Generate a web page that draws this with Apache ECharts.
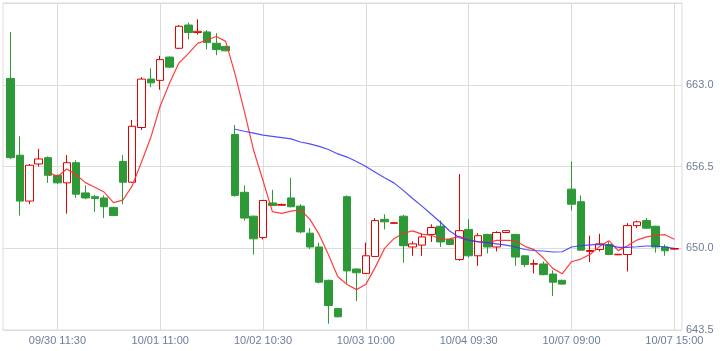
<!DOCTYPE html>
<html>
<head>
<meta charset="utf-8">
<title>K线</title>
<script src="https://cdn.jsdelivr.net/npm/echarts@6/dist/echarts.min.js"></script>
<style>
  html, body { margin: 0; padding: 0; background: #fff; }
  #chart { width: 722px; height: 351px; }
</style>
</head>
<body>
<div id="chart"></div>
<script>
// tick labels shown on the time axis, and the bar they sit on
const tickIndex = [5, 16, 27, 38, 49, 60, 71];
const tickLabels = ['09/30 11:30', '10/01 11:00', '10/02 10:30', '10/03 10:00', '10/04 09:30', '10/07 09:00', '10/07 15:00'];
const barCount = 72;

const opens = [
  663.5, 657.4, 653.75, 656.7, 657.2, 655.8, 655.2, 656.8, 654.4, 654.1, 654.0, 653.25,
  656.9, 655.25, 659.6, 663.45, 663.35, 665.2, 665.9, 667.75, 667.15, 667.2, 666.3, 666.05,
  659.05, 654.45, 652.55, 650.85, 653.6, 653.42, 654.0, 653.35, 651.2, 650.1, 647.45, 645.2,
  654.1, 648.35, 648.0, 649.35, 652.3, 651.98, 652.55, 650.1, 650.25, 651.1, 651.75, 650.7,
  649.1, 651.5, 649.4, 651.1, 650.1, 651.25, 651.1, 649.4, 648.73, 648.75, 647.95, 647.45,
  654.7, 653.7, 649.75, 649.9, 650.3, 649.48, 649.5, 651.8, 652.2, 651.75, 650.1, 649.93
];
const closes = [
  657.2, 653.75, 656.6, 657.1, 655.8, 655.2, 656.8, 654.3, 654.0, 653.95, 653.3, 652.6,
  655.25, 659.7, 663.45, 663.15, 665.0, 664.4, 667.65, 667.15, 667.25, 666.35, 665.8, 665.7,
  654.2, 652.4, 650.75, 653.8, 653.4, 653.48, 653.3, 651.3, 650.1, 647.3, 645.45, 644.55,
  648.2, 648.05, 649.4, 652.2, 652.1, 652.03, 650.2, 650.35, 650.9, 651.65, 650.5, 650.3,
  651.4, 649.4, 651.0, 650.1, 651.25, 651.4, 649.3, 648.7, 648.78, 647.9, 647.3, 647.15,
  653.5, 649.85, 649.82, 650.35, 649.5, 649.52, 651.8, 652.1, 651.6, 650.1, 649.8, 649.98
];
const highs = [
  667.2, 658.9, 656.7, 657.9, 657.3, 655.85, 657.4, 657.0, 655.0, 654.25, 654.2, 653.3,
  657.4, 660.2, 663.6, 664.3, 665.3, 665.25, 667.75, 667.95, 668.2, 667.35, 667.1, 666.1,
  659.8, 655.0, 652.6, 653.85, 654.65, 653.55, 655.6, 653.5, 651.6, 650.45, 647.5, 645.25,
  654.2, 648.4, 650.45, 652.4, 652.7, 652.05, 652.65, 650.55, 651.15, 651.9, 652.2, 650.75,
  655.9, 652.3, 651.2, 651.15, 651.35, 651.45, 651.15, 649.45, 649.1, 648.95, 648.25, 647.5,
  656.9, 654.2, 651.0, 651.15, 650.5, 649.55, 652.0, 652.2, 652.4, 651.8, 650.3, 650.0
];
const lows = [
  657.1, 652.6, 653.5, 656.5, 655.2, 655.1, 652.75, 654.0, 653.9, 652.9, 652.4, 652.55,
  653.5, 655.2, 659.4, 662.8, 662.6, 664.35, 665.85, 666.6, 667.0, 665.8, 665.35, 665.65,
  654.1, 652.2, 649.5, 650.7, 653.35, 653.4, 653.25, 651.2, 649.95, 647.2, 644.0, 644.5,
  647.2, 645.8, 647.95, 649.3, 651.5, 651.95, 648.85, 649.4, 649.4, 650.5, 650.1, 650.25,
  649.0, 649.25, 648.6, 649.6, 649.75, 651.2, 648.6, 648.5, 648.0, 647.85, 646.2, 647.1,
  653.0, 649.8, 648.9, 649.75, 649.45, 649.45, 648.15, 651.6, 651.55, 649.65, 649.4, 649.9
];

// red average line, from bar 4 on
const ma5Start = 4;
const ma5 = [
  656.09, 655.69, 656.30, 655.84, 655.22, 654.85, 654.47, 653.63, 653.82, 654.96,
  656.86, 658.83, 661.31, 663.14, 664.73, 665.47, 666.29, 666.56, 666.84, 666.45,
  663.86, 660.89, 657.77, 655.37, 652.91, 652.77, 652.95, 653.06, 652.32, 651.10,
  649.49, 647.74, 647.12, 646.71, 647.13, 648.48, 649.99, 650.76, 651.19, 651.38,
  651.12, 651.03, 650.72, 650.74, 650.95, 650.65, 650.52, 650.44, 650.63, 650.63,
  650.61, 650.15, 649.89, 649.22, 648.40, 647.97, 648.93, 649.14, 649.52, 650.13,
  650.60, 649.81, 650.20, 650.65, 650.90, 651.02, 651.08, 650.72
];
// blue average line, from bar 24 on
const maLongStart = 24;
const maLong = [
  659.46, 659.3, 659.15, 659.0, 658.9, 658.8, 658.7, 658.45, 658.3, 658.1,
  657.85, 657.5, 657.25, 656.9, 656.5, 656.05, 655.6, 655.2, 654.6, 653.95,
  653.35, 652.7, 652.05, 651.35, 650.85, 650.65, 650.5, 650.45, 650.35, 650.25,
  650.1, 649.9, 649.82, 649.78, 649.7, 649.72, 650.1, 650.2, 650.27, 650.3,
  650.25, 650.07, 650.07, 650.12, 650.18, 650.18, 650.1, 650.0
];

const yMin = 643.5;
const yMax = 669.5;
const yStep = 6.5;

const categories = [];
for (let i = 0; i < barCount; i++) {
  const k = tickIndex.indexOf(i);
  categories.push(k >= 0 ? tickLabels[k] : '');
}
const candles = opens.map((o, i) => [o, closes[i], lows[i], highs[i]]);
const pad = (arr, start) => new Array(start).fill('-').concat(arr);
const isTick = (i) => tickIndex.indexOf(i) >= 0;

const labelColor = '#6e7d9b';
const lineGray = '#dcdcdc';
const upRed = '#e00000';
const downGreen = '#2e9a37';

const myChart = echarts.init(document.getElementById('chart'));

const option = {
  backgroundColor: '#fff',
  animation: false,
  grid: [
    // data area, a little inside the frame
    { left: 6, right: 43, top: 3, bottom: 21 },
    // the frame itself, with the price scale
    { left: 3, right: 40, top: 3, bottom: 21, show: true, borderColor: lineGray, borderWidth: 1 },
  ],
  xAxis: [
    {
      type: 'category',
      gridIndex: 0,
      data: categories,
      boundaryGap: true,
      axisLine: { show: false },
      axisTick: { show: false },
      axisLabel: {
        interval: isTick,
        color: labelColor,
        fontSize: 11,
        fontFamily: 'Liberation Sans, Arial, sans-serif',
        margin: 5,
      },
      splitLine: {
        show: true,
        interval: isTick,
        alignWithLabel: true,
        lineStyle: { color: lineGray, width: 1 },
      },
    },
    { type: 'value', gridIndex: 1, show: false, min: 0, max: 1 },
  ],
  yAxis: [
    { type: 'value', gridIndex: 0, show: false, min: yMin, max: yMax },
    {
      type: 'value',
      gridIndex: 1,
      position: 'right',
      min: yMin,
      max: yMax,
      interval: yStep,
      axisLine: { show: false },
      axisTick: { show: false },
      axisLabel: {
        showMaxLabel: false,
        color: labelColor,
        fontSize: 11,
        fontFamily: 'Liberation Sans, Arial, sans-serif',
        margin: 4,
        formatter: (v) => v.toFixed(1),
      },
      splitLine: { show: true, lineStyle: { color: lineGray, width: 1 } },
    },
  ],
  series: [
    {
      type: 'candlestick',
      xAxisIndex: 0,
      yAxisIndex: 0,
      data: candles,
      barWidth: 8,
      itemStyle: {
        color: '#fff',
        color0: downGreen,
        borderColor: upRed,
        borderColor0: downGreen,
        borderWidth: 1,
      },
    },
    {
      type: 'line',
      xAxisIndex: 0,
      yAxisIndex: 0,
      data: pad(ma5, ma5Start),
      showSymbol: false,
      symbol: 'none',
      lineStyle: { color: '#ff2a2a', width: 1.2, opacity: 0.9 },
    },
    {
      type: 'line',
      xAxisIndex: 0,
      yAxisIndex: 0,
      data: pad(maLong, maLongStart),
      showSymbol: false,
      symbol: 'none',
      lineStyle: { color: '#3030ff', width: 1.2, opacity: 0.85 },
    },
  ],
};
myChart.setOption(option);
</script>
</body>
</html>
